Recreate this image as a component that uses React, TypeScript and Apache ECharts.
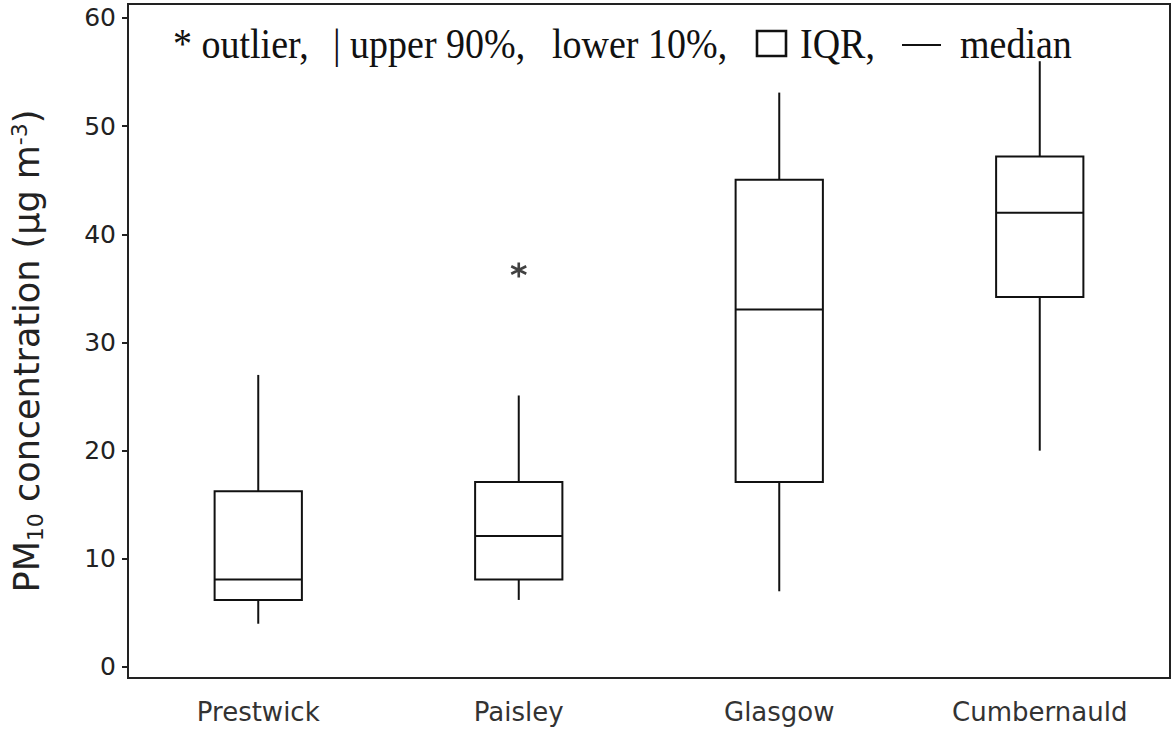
import React, { useEffect, useRef } from "react";
import * as echarts from "echarts";

const categories = ["Prestwick", "Paisley", "Glasgow", "Cumbernauld"];
const lower10 = [4, 6.2, 7, 20];
const q1 = [6.2, 8.1, 17.1, 34.2];
const median = [8.1, 12.1, 33.05, 42];
const q3 = [16.25, 17.1, 45.05, 47.2];
const upper90 = [27, 25.1, 53.1, 56];
const outlierCategory = ["Paisley"];
const outlierValue = [36.7];
const yTicks = [0, 10, 20, 30, 40, 50, 60];

export default function App() {
  const ref = useRef<HTMLDivElement>(null);
  useEffect(() => {
    if (!ref.current) return;
    const chart = echarts.init(ref.current, null, { renderer: "svg" });
    const boxData = categories.map((c, i) => [i, lower10[i], q1[i], median[i], q3[i], upper90[i]]);
    const outData = outlierCategory.map((c, i) => [categories.indexOf(c), outlierValue[i]]);
    const serif = "'Liberation Serif', 'Times New Roman', serif";
    const sans = "'DejaVu Sans', sans-serif";
    const legendY = 44;
    const legendFont = { fontFamily: serif, fontSize: 38, fill: "#111", verticalAlign: "middle" };
    const lt = (x: number, text: string) => ({
      type: "text",
      x,
      y: legendY,
      scaleY: 1.1,
      style: { ...legendFont, text },
    });
    chart.setOption({
      animation: false,
      backgroundColor: "#fff",
      grid: {
        left: 128,
        right: 3,
        top: 4,
        bottom: 51,
        show: true,
        borderColor: "#222",
        borderWidth: 2,
        backgroundColor: "transparent",
      },
      xAxis: {
        type: "category",
        data: categories,
        boundaryGap: true,
        axisLine: { onZero: false, lineStyle: { color: "#222", width: 2 } },
        axisTick: { alignWithLabel: true, length: 8, lineStyle: { color: "#222", width: 2 } },
        axisLabel: { fontFamily: sans, fontSize: 26, color: "#333", margin: 21 },
        splitLine: { show: false },
      },
      yAxis: {
        type: "value",
        min: -1.017,
        max: 61.29,
        axisLine: { show: true, lineStyle: { color: "#222", width: 2 } },
        axisTick: { show: true, length: 6, customValues: yTicks, lineStyle: { color: "#222", width: 2 } },
        axisLabel: { fontFamily: sans, fontSize: 25, color: "#222", margin: 12, customValues: yTicks },
        splitLine: { show: false },
      },
      series: [
        {
          type: "custom",
          data: boxData,
          renderItem: (params: any, api: any) => {
            const idx = api.value(0);
            const lo = api.coord([idx, api.value(1)]);
            const b1 = api.coord([idx, api.value(2)]);
            const md = api.coord([idx, api.value(3)]);
            const b3 = api.coord([idx, api.value(4)]);
            const hi = api.coord([idx, api.value(5)]);
            const w = api.size([1, 0])[0] * 0.335;
            const x = lo[0];
            const st = { stroke: "#111", lineWidth: 2, fill: "none" };
            return {
              type: "group",
              children: [
                { type: "line", shape: { x1: x, y1: hi[1], x2: x, y2: b3[1] }, style: st },
                { type: "line", shape: { x1: x, y1: b1[1], x2: x, y2: lo[1] }, style: st },
                {
                  type: "rect",
                  shape: { x: x - w / 2, y: b3[1], width: w, height: b1[1] - b3[1] },
                  style: { stroke: "#111", lineWidth: 2, fill: "#fff" },
                },
                { type: "line", shape: { x1: x - w / 2, y1: md[1], x2: x + w / 2, y2: md[1] }, style: st },
              ],
            };
          },
        },
        {
          type: "scatter",
          data: outData,
          symbol: "path://M0,-1L0,1M-0.87,-0.5L0.87,0.5M-0.87,0.5L0.87,-0.5",
          symbolSize: 15,
          itemStyle: { color: "none", borderColor: "#111", borderWidth: 2.6 },
        },
      ],
      graphic: [
        lt(173, "* outlier,"),
        lt(333, "| upper 90%,"),
        lt(552, "lower 10%,"),
        { type: "rect", shape: { x: 757, y: 31, width: 29, height: 25 }, style: { fill: "none", stroke: "#111", lineWidth: 2.6 } },
        lt(800, "IQR,"),
        { type: "line", shape: { x1: 902, y1: 45, x2: 941, y2: 45 }, style: { stroke: "#111", lineWidth: 2 } },
        lt(960, "median"),
        {
          type: "text",
          x: 27,
          y: 351,
          rotation: Math.PI / 2,
          style: {
            text: "PM{sub|10} concentration (µg m{sup|-3})",
            fontFamily: sans,
            fontSize: 35,
            fill: "#222",
            align: "center",
            verticalAlign: "middle",
            rich: {
              sub: { fontFamily: sans, fontSize: 22, fill: "#222", padding: [16, 0, 0, 0] },
              sup: { fontFamily: sans, fontSize: 22, fill: "#222", padding: [0, 0, 16, 0] },
            },
          },
        },
      ],
    });
    return () => chart.dispose();
  }, []);
  return <div ref={ref} style={{ width: 1173, height: 729, position: "absolute", left: 0, top: 0 }} />;
}
